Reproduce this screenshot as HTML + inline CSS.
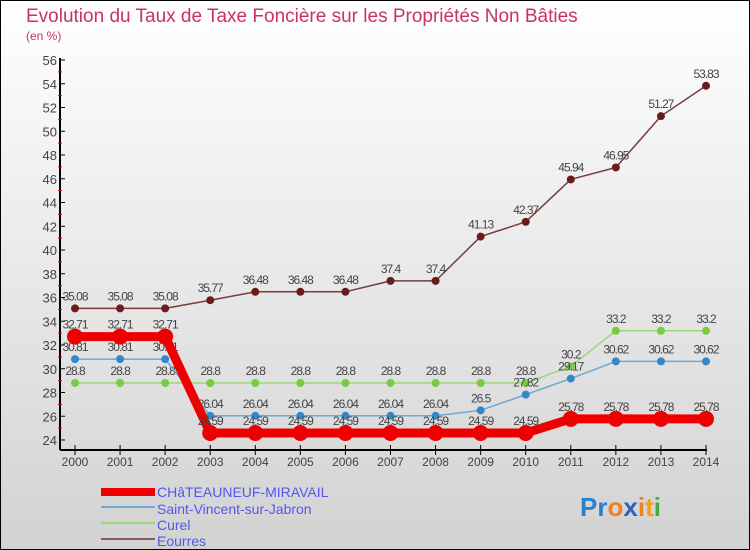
<!DOCTYPE html>
<html><head><meta charset="utf-8"><style>
body{margin:0}
#c{width:750px;height:550px;position:relative;background:linear-gradient(#ffffff,#d2d2d2);font-family:"Liberation Sans",sans-serif;overflow:hidden}
</style></head><body>
<div id="c">
<svg id="s" width="750" height="550" style="position:absolute;left:0;top:0">
<rect x="0.5" y="0.5" width="749" height="549" fill="none" stroke="#000"/>
<text x="26" y="22" font-size="19" fill="#c8335f">Evolution du Taux de Taxe Foncière sur les Propriétés Non Bâties</text>
<text x="26" y="40" font-size="12" fill="#c8335f">(en %)</text>
<g id="ax"></g><g id="pl"></g>
<g>
<rect x="101" y="488" width="54" height="8" fill="#e00"/>
<text x="157" y="497" font-size="14" fill="#5555ee">CHâTEAUNEUF-MIRAVAIL</text>
<rect x="101" y="506" width="54" height="2" fill="#6fa8d0"/>
<text x="157" y="514" font-size="14" fill="#5555ee">Saint-Vincent-sur-Jabron</text>
<rect x="101" y="522" width="54" height="2" fill="#99d877"/>
<text x="157" y="530" font-size="14" fill="#5555ee">Curel</text>
<rect x="101" y="538" width="54" height="2" fill="#8a5a5a"/>
<text x="157" y="546" font-size="14" fill="#5555ee">Eourres</text>
</g>
<g font-size="26" font-weight="bold">
<text x="580" y="516"><tspan fill="#2a7fd0">Pr</tspan><tspan fill="#f08020">o</tspan><tspan fill="#2a60c0">x</tspan><tspan fill="#f08020">i</tspan><tspan fill="#f0a020">t</tspan><tspan fill="#44aa44">i</tspan></text>
</g>
</svg>
</div>
<script>
const years=[2000,2001,2002,2003,2004,2005,2006,2007,2008,2009,2010,2011,2012,2013,2014];
const chateauneuf=[32.71,32.71,32.71,24.59,24.59,24.59,24.59,24.59,24.59,24.59,24.59,25.78,25.78,25.78,25.78];
const saintVincent=[30.81,30.81,30.81,26.04,26.04,26.04,26.04,26.04,26.04,26.5,27.82,29.17,30.62,30.62,30.62];
const curel=[28.8,28.8,28.8,28.8,28.8,28.8,28.8,28.8,28.8,28.8,28.8,30.2,33.2,33.2,33.2];
const eourres=[35.08,35.08,35.08,35.77,36.48,36.48,36.48,37.4,37.4,41.13,42.37,45.94,46.95,51.27,53.83];
const yTicks=[24,26,28,30,32,34,36,38,40,42,44,46,48,50,52,54,56];
const NS="http://www.w3.org/2000/svg";
function X(i){return 75+i*(706-75)/(years.length-1);}
function Y(v){return 440-(v-24)*(380/32);}
function mk(t,a,p){const e=document.createElementNS(NS,t);for(const k in a)e.setAttribute(k,a[k]);p.appendChild(e);return e;}
const ax=document.getElementById('ax'),pl=document.getElementById('pl');
let l=mk('line',{x1:60,y1:58,x2:60,y2:450,stroke:'#000','stroke-width':2},ax);


l=mk('line',{x1:60,y1:450,x2:707,y2:450,stroke:'#000','stroke-width':2},ax);


yTicks.forEach((v,i)=>{
 const y=Y(v);
 mk('line',{x1:60,y1:y,x2:65,y2:y,stroke:'#000'},ax);
 if(i<yTicks.length-1) mk('line',{x1:58,y1:Y(v+1),x2:62,y2:Y(v+1),stroke:'#e00'},ax);
 const t=mk('text',{x:57,y:y+5,'font-size':13,fill:'#444','text-anchor':'end'},ax);
 t.textContent=v;
 
 
});
years.forEach((yr,i)=>{
 mk('line',{x1:X(i),y1:445,x2:X(i),y2:455,stroke:'#000'},ax);
 const t=mk('text',{x:X(i),y:466,'font-size':12,fill:'#444','text-anchor':'middle'},ax);
 t.textContent=yr;
 
 
});
const series=[
 {name:'eourres',d:eourres,c:'#7a3a3a',dot:'#6a1c1c',w:1.5,r:4},
 {name:'curel',d:curel,c:'#99d877',dot:'#77cc44',w:1.5,r:4},
 {name:'saint-vincent',d:saintVincent,c:'#6fa8d0',dot:'#3388cc',w:1.5,r:4},
 {name:'chateauneuf',d:chateauneuf,c:'#e00',dot:'#e00',w:9,r:8}
];
series.forEach(s=>{
 const g=mk('g',{},pl);
 
 
 const pts=s.d.map((v,i)=>X(i)+','+Y(v)).join(' ');
 const p=mk('polyline',{points:pts,fill:'none',stroke:s.c,'stroke-width':s.w},g);
 
 
 s.d.forEach((v,i)=>{
  const c=mk('circle',{cx:X(i),cy:Y(v),r:s.r,fill:s.dot},g);
  
  
  const t=mk('text',{x:X(i),y:Y(v)-8,'font-size':12,fill:'#444','text-anchor':'middle','letter-spacing':'-1'},g);
  t.textContent=v;
  
  
 });
});
</script>
</body></html>
